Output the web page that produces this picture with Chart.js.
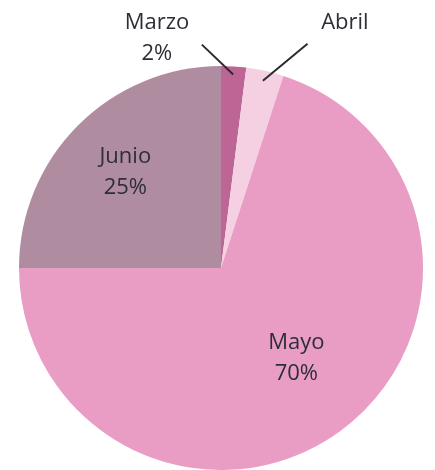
<!DOCTYPE html>
<html>
<head>
<meta charset="utf-8">
<script src="https://cdn.jsdelivr.net/npm/chart.js@4"></script>
<style>
  html, body { margin: 0; padding: 0; background: #fff; }
  #wrap { width: 435px; height: 470px; }
</style>
</head>
<body>
<div id="wrap"><canvas id="months"></canvas></div>
<script>
const months = ["Marzo", "Abril", "Mayo", "Junio"];
const shares = [2, 3, 70, 25];
const showPct = [true, false, true, true];
const colors = ["#BD6594", "#F4D0E2", "#E99CC4", "#B08CA1"];

// label placement: inside labels at a fraction of the radius,
// outside labels with a leader line
const labelPlace = [
  { outside: true, lineFrom: 0.96, lineTo: 1.11, lineAngle: -8.5, textAngle: -19.2, textR: 1.18 },
  { outside: true, lineFrom: 0.95, lineTo: 1.19, lineAngle: 8.5, textAngle: 14.2, textR: 1.36 },
  { outside: false, r: 0.58, angle: -4 },
  { outside: false, r: 0.67, angle: 0 },
];

const FONT = '500 22px "Open Sans"';

const pieLabels = {
  id: "pieLabels",
  afterDatasetsDraw(chart) {
    const ctx = chart.ctx;
    const meta = chart.getDatasetMeta(0);
    ctx.save();
    ctx.font = FONT;
    ctx.fillStyle = "#2e2e36";
    ctx.textAlign = "center";
    ctx.textBaseline = "middle";
    meta.data.forEach((arc, i) => {
      const p = labelPlace[i];
      const mid = (arc.startAngle + arc.endAngle) / 2;
      const R = arc.outerRadius;
      const lines = [months[i]];
      if (showPct[i]) lines.push(shares[i] + "%");
      let tx, ty;
      if (p.outside) {
        const a1 = mid;
        const a2 = mid + p.lineAngle * Math.PI / 180;
        ctx.strokeStyle = "#2b2b2b";
        ctx.lineWidth = 2;
        ctx.beginPath();
        ctx.moveTo(arc.x + Math.cos(a1) * R * p.lineFrom, arc.y + Math.sin(a1) * R * p.lineFrom);
        ctx.lineTo(arc.x + Math.cos(a2) * R * p.lineTo, arc.y + Math.sin(a2) * R * p.lineTo);
        ctx.stroke();
        const a3 = mid + p.textAngle * Math.PI / 180;
        tx = arc.x + Math.cos(a3) * R * p.textR;
        ty = arc.y + Math.sin(a3) * R * p.textR;
      } else {
        const a = mid + p.angle * Math.PI / 180;
        tx = arc.x + Math.cos(a) * R * p.r;
        ty = arc.y + Math.sin(a) * R * p.r;
      }
      const lh = 31;
      const y0 = ty - (lines.length - 1) * lh / 2;
      lines.forEach((t, k) => ctx.fillText(t, tx, y0 + k * lh));
    });
    ctx.restore();
  },
};

new Chart(document.getElementById("months"), {
  type: "pie",
  data: {
    labels: months,
    datasets: [
      {
        data: shares,
        backgroundColor: colors,
        borderWidth: 0,
      },
    ],
  },
  options: {
    responsive: true,
    maintainAspectRatio: false,
    animation: false,
    layout: {
      padding: { top: 66, bottom: 0, left: 19, right: 12 },
    },
    plugins: {
      legend: { display: false },
      tooltip: { enabled: false },
    },
  },
  plugins: [pieLabels],
});
</script>
</body>
</html>
